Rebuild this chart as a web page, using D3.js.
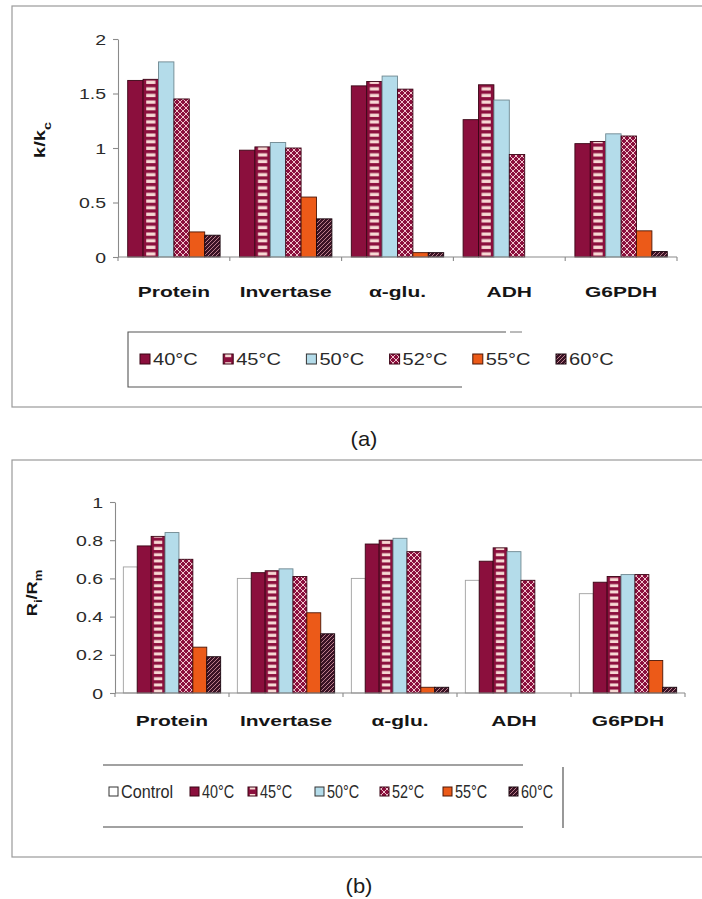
<!DOCTYPE html>
<html>
<head>
<meta charset="utf-8">
<script src="https://cdn.jsdelivr.net/npm/d3@7"></script>
<style>
  body { margin: 0; background: #fff; }
  svg { display: block; }
</style>
</head>
<body>
<svg id="chart" width="702" height="899"></svg>
<script>
// ---- data -------------------------------------------------------------
const categories = ["Protein", "Invertase", "α-glu.", "ADH", "G6PDH"];

// (a) k/kc after heat treatment
const seriesA = ["40°C", "45°C", "50°C", "52°C", "55°C", "60°C"];
const kA40 = [1.62, 0.98, 1.57, 1.26, 1.04];
const kA45 = [1.63, 1.01, 1.61, 1.58, 1.06];
const kA50 = [1.79, 1.05, 1.66, 1.44, 1.13];
const kA52 = [1.45, 1.00, 1.54, 0.94, 1.11];
const kA55 = [0.23, 0.55, 0.04, 0.00, 0.24];
const kA60 = [0.20, 0.35, 0.04, 0.00, 0.05];
const ticksA = [0, 0.5, 1, 1.5, 2];
const tickLabelsA = ["0", "0.5", "1", "1.5", "2"];

// (b) Ri/Rm
const seriesB = ["Control", "40°C", "45°C", "50°C", "52°C", "55°C", "60°C"];
const rBCtl = [0.66, 0.60, 0.60, 0.59, 0.52];
const rB40 = [0.77, 0.63, 0.78, 0.69, 0.58];
const rB45 = [0.82, 0.64, 0.80, 0.76, 0.61];
const rB50 = [0.84, 0.65, 0.81, 0.74, 0.62];
const rB52 = [0.70, 0.61, 0.74, 0.59, 0.62];
const rB55 = [0.24, 0.42, 0.03, 0.00, 0.17];
const rB60 = [0.19, 0.31, 0.03, 0.00, 0.03];
const ticksB = [0, 0.2, 0.4, 0.6, 0.8, 1];
const tickLabelsB = ["0", "0.2", "0.4", "0.6", "0.8", "1"];

// ---- styling ----------------------------------------------------------
const FONT = "'Liberation Sans', Arial, Helvetica, sans-serif";
const MAROON = "#8b0f3d";
const PINK = "#f7d9d4";
const BLUE = "#b4dcea";
const ORANGE = "#ec5a18";
const DARK = "#3a1325";
const AXIS = "#8a8a8a";

const styleOf = {
  "Control": { kind: "solid", fill: "#ffffff", stroke: "#a0a0a0" },
  "40°C":    { kind: "solid", fill: MAROON, stroke: "#3a0515" },
  "45°C":    { kind: "brick", fill: MAROON, stroke: "#3a0515" },
  "50°C":    { kind: "solid", fill: BLUE, stroke: "#6e8790" },
  "52°C":    { kind: "lattice", fill: MAROON, stroke: "#3a0515" },
  "55°C":    { kind: "solid", fill: ORANGE, stroke: "#4a1606" },
  "60°C":    { kind: "diag", fill: DARK, stroke: "#1a060e" }
};

const svg = d3.select("#chart");
const defs = svg.append("defs");

// shared tiles
const lattice = defs.append("pattern").attr("id", "lattice")
  .attr("patternUnits", "userSpaceOnUse").attr("width", 6).attr("height", 6);
lattice.append("rect").attr("width", 6).attr("height", 6).attr("fill", MAROON);
lattice.append("path").attr("d", "M0,0L6,6M6,0L0,6")
  .attr("stroke", "#efc3cc").attr("stroke-width", 1);

const diag = defs.append("pattern").attr("id", "diag")
  .attr("patternUnits", "userSpaceOnUse").attr("width", 4).attr("height", 4);
diag.append("rect").attr("width", 4).attr("height", 4).attr("fill", DARK);
diag.append("path").attr("d", "M-1,5L5,-1M-1,1L1,-1M3,5L5,3")
  .attr("stroke", "#c98a95").attr("stroke-width", 0.9);

// brick pattern is laid out per bar so the dashes stay centred in it
let brickCount = 0;
function brickFill(x, w, period) {
  const id = "brick" + (brickCount++);
  const p = defs.append("pattern").attr("id", id)
    .attr("patternUnits", "userSpaceOnUse")
    .attr("x", x).attr("y", 0).attr("width", w).attr("height", period);
  p.append("rect").attr("width", w).attr("height", period).attr("fill", MAROON);
  p.append("rect").attr("x", w * 0.2).attr("width", w * 0.6)
    .attr("y", period * 0.22).attr("height", period * 0.5).attr("fill", PINK);
  return `url(#${id})`;
}

function fillFor(name, x, w, period) {
  const s = styleOf[name];
  if (s.kind === "brick") return brickFill(x, w, period);
  if (s.kind === "lattice") return "url(#lattice)";
  if (s.kind === "diag") return "url(#diag)";
  return s.fill;
}

// text helper: allows horizontal stretch and rotation
function label(parent, x, y, str, o) {
  const t = parent.append("text")
    .attr("transform", `translate(${x},${y})` + (o.rot ? ` rotate(${o.rot})` : "") + ` scale(${o.sx || 1},1)`)
    .attr("text-anchor", o.anchor || "start")
    .attr("fill", o.fill || "#1b1b1b")
    .style("font-family", FONT)
    .style("font-size", o.size + "px")
    .style("font-weight", o.weight || "normal");
  if (str !== null) t.text(str);
  return t;
}

// ---- one panel --------------------------------------------------------
function drawPanel(cfg) {
  const g = svg.append("g");

  // outer frame (right edge runs past the page)
  g.append("rect").attr("x", cfg.frame[0]).attr("y", cfg.frame[1])
    .attr("width", 760).attr("height", cfg.frame[2] - cfg.frame[1])
    .attr("fill", "none").attr("stroke", "#9a9a9a").attr("stroke-width", 1.2);

  const y = d3.scaleLinear().domain(cfg.yDomain).range(cfg.yRange);
  const x0 = d3.scaleBand().domain(categories).range(cfg.xRange).padding(0);
  const x1 = d3.scaleBand().domain(cfg.series).range([0, x0.bandwidth()])
    .paddingInner(0).paddingOuter(cfg.padOuter);

  // bars
  cfg.series.forEach((name, si) => {
    const vals = cfg.values[si];
    const s = styleOf[name];
    g.append("g").selectAll("rect").data(categories).join("rect")
      .each(function (c, ci) {
        const bx = x0(c) + x1(name);
        const bw = x1.bandwidth();
        const v = vals[ci];
        if (v <= 0) return;
        d3.select(this)
          .attr("x", bx).attr("width", bw)
          .attr("y", y(v)).attr("height", y(0) - y(v))
          .attr("fill", fillFor(name, bx, bw, cfg.brickPeriod))
          .attr("stroke", s.stroke).attr("stroke-width", 0.9);
      });
  });

  // y axis
  const yAxis = d3.axisLeft(y).tickValues(cfg.ticks).tickSize(5).tickSizeOuter(0).tickFormat("");
  const ya = g.append("g").attr("transform", `translate(${cfg.xRange[0]},0)`).call(yAxis);
  ya.selectAll("path,line").attr("stroke", AXIS).attr("stroke-width", 1.1);
  cfg.ticks.forEach((t, i) => {
    label(g, cfg.xRange[0] - 12, y(t) + 5.5, cfg.tickLabels[i],
      { size: 15, sx: 1.3, anchor: "end", fill: "#2a2a2a" });
  });

  // x axis with ticks between categories
  const y0 = y(0);
  g.append("line").attr("x1", cfg.xRange[0]).attr("x2", cfg.xRange[1])
    .attr("y1", y0).attr("y2", y0).attr("stroke", AXIS).attr("stroke-width", 1.1);
  const bounds = categories.map(c => x0(c)).concat([cfg.xRange[1]]);
  g.append("g").selectAll("line").data(bounds).join("line")
    .attr("x1", d => d).attr("x2", d => d).attr("y1", y0).attr("y2", y0 + 4)
    .attr("stroke", AXIS).attr("stroke-width", 1.1);

  // category labels
  categories.forEach(c => {
    label(g, x0(c) + x0.bandwidth() / 2, cfg.catBaseline, c,
      { size: 14, weight: "bold", sx: 1.5, anchor: "middle", fill: "#151515" });
  });

  // y title
  const t = label(g, cfg.titlePos[0], cfg.titlePos[1], null,
    { size: 14, weight: "bold", sx: cfg.titleSx, rot: -90, anchor: "middle", fill: "#151515" });
  cfg.title.forEach(part => {
    const ts = t.append("tspan").text(part.t);
    if (part.sub) ts.attr("baseline-shift", "sub").style("font-size", "10px");
  });

  return g;
}

// ---- panel (a) --------------------------------------------------------
drawPanel({
  frame: [12, 6, 407],
  yDomain: [0, 2], yRange: [257, 39],
  xRange: [118, 677],
  series: seriesA,
  values: [kA40, kA45, kA50, kA52, kA55, kA60],
  padOuter: 0.63,
  brickPeriod: 6.6,
  ticks: ticksA, tickLabels: tickLabelsA,
  catBaseline: 297,
  titlePos: [45, 140], titleSx: 1.45,
  title: [{ t: "k/k" }, { t: "c", sub: true }]
});

// ---- panel (b) --------------------------------------------------------
drawPanel({
  frame: [12, 460, 857],
  yDomain: [0, 1], yRange: [693, 502],
  xRange: [115, 685],
  series: seriesB,
  values: [rBCtl, rB40, rB45, rB50, rB52, rB55, rB60],
  padOuter: 0.6,
  brickPeriod: 6.2,
  ticks: ticksB, tickLabels: tickLabelsB,
  catBaseline: 726,
  titlePos: [37, 593], titleSx: 1.3,
  title: [{ t: "R" }, { t: "i", sub: true }, { t: "/R" }, { t: "m", sub: true }]
});

// ---- legends ----------------------------------------------------------
function swatch(parent, name, x, y, size) {
  const s = styleOf[name];
  parent.append("rect").attr("x", x).attr("y", y).attr("width", size).attr("height", size)
    .attr("fill", s.kind === "brick" ? brickFill(x, size, size) : fillFor(name, x, size, size))
    .attr("stroke", name === "Control" || name === "50°C" ? "#333" : s.stroke)
    .attr("stroke-width", 1);
}

// legend (a)
const legA = svg.append("g");
legA.append("path").attr("d", "M506,332H128V387H462")
  .attr("fill", "none").attr("stroke", "#555").attr("stroke-width", 1.1);
legA.append("line").attr("x1", 510).attr("x2", 522).attr("y1", 332).attr("y2", 332)
  .attr("stroke", "#777");
const legAStep = 83.2;
seriesA.forEach((name, i) => {
  const mx = 140 + i * legAStep;
  swatch(legA, name, mx, 354, 10);
  label(legA, mx + 13, 365, name, { size: 17, sx: 1.18, fill: "#2a2a2a" });
});

// legend (b)
const legB = svg.append("g");
legB.append("line").attr("x1", 103).attr("x2", 523).attr("y1", 765).attr("y2", 765)
  .attr("stroke", "#444").attr("stroke-width", 1.1);
legB.append("line").attr("x1", 103).attr("x2", 523).attr("y1", 827).attr("y2", 827)
  .attr("stroke", "#444").attr("stroke-width", 1.1);
legB.append("line").attr("x1", 563).attr("x2", 563).attr("y1", 767).attr("y2", 828)
  .attr("stroke", "#444").attr("stroke-width", 1.1);
const legBX = [109, 190, 248, 315, 380, 443, 509];
seriesB.forEach((name, i) => {
  const mx = legBX[i];
  swatch(legB, name, mx, 787, 9);
  label(legB, mx + 12, 798, name,
    { size: 18, sx: name === "Control" ? 0.9 : 0.8, fill: "#2a2a2a" });
});

// sub-figure captions
label(svg, 364, 446, "(a)", { size: 20, sx: 1.1, anchor: "middle", fill: "#1b1b1b" });
label(svg, 359, 893, "(b)", { size: 20, sx: 1.1, anchor: "middle", fill: "#1b1b1b" });
</script>
</body>
</html>
